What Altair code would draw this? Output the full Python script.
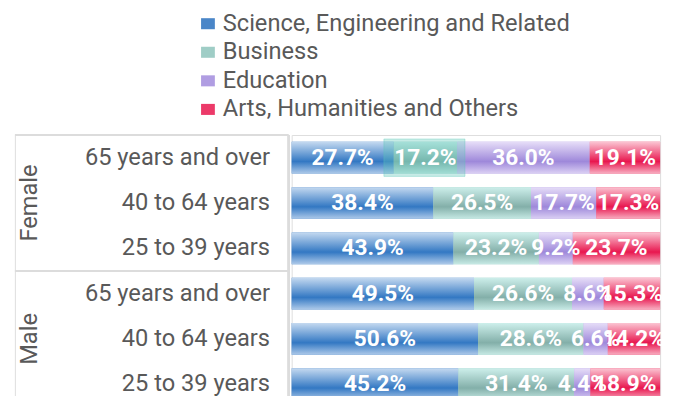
import altair as alt
import pandas as pd

genders = ["Female", "Female", "Female", "Male", "Male", "Male"]
ages = ["65 years and over", "40 to 64 years", "25 to 39 years",
        "65 years and over", "40 to 64 years", "25 to 39 years"]
categories = ["Science, Engineering and Related", "Business", "Education",
              "Arts, Humanities and Others"]
science = [27.7, 38.4, 43.9, 49.5, 50.6, 45.2]
business = [17.2, 26.5, 23.2, 26.6, 28.6, 31.4]
education = [36.0, 17.7, 9.2, 8.6, 6.6, 4.4]
arts = [19.1, 17.3, 23.7, 15.3, 14.2, 18.9]

series = [science, business, education, arts]
solid = ["#4a86c8", "#9fcdc6", "#b09de2", "#ec3a69"]
grad_stops = [
    [("#c4d9f0", 0.0), ("#3378c3", 0.62), ("#adc9e9", 1.0)],
    [("#cdefeb", 0.0), ("#83afa9", 0.62), ("#c6e9e4", 1.0)],
    [("#e6ddf8", 0.0), ("#9e88da", 0.62), ("#dbd0f4", 1.0)],
    [("#fbc4d2", 0.0), ("#e8174f", 0.62), ("#f8aec1", 1.0)],
]

row_keys = [g + "|" + a for g, a in zip(genders, ages)]

records = []
for ci, (cat, vals) in enumerate(zip(categories, series)):
    for ri, v in enumerate(vals):
        records.append({
            "row": row_keys[ri], "gender": genders[ri], "age": ages[ri],
            "category": cat, "order": ci, "value": v,
            "label": f"{v:.1f}%",
            "hl": 1 if (ri == 0 and ci == 1) else 0,
        })
df = pd.DataFrame(records)

rows_df = pd.DataFrame({
    "row": row_keys, "gender": genders, "age": ages,
    "first": [1, 0, 0, 1, 0, 0], "mid": [0, 1, 0, 0, 1, 0],
})

H = 276
LW = 278
RW = 374
TXT = "#595959"
LINE = "#dcdcdc"

# ---------- left label panel ----------
yl = alt.Y("row:N", sort=row_keys, scale=alt.Scale(paddingInner=0, paddingOuter=0), axis=None)
xl0 = alt.X(datum=0, type="quantitative", scale=alt.Scale(domain=[0, 1], nice=False), axis=None)
xl1 = alt.X(datum=1, type="quantitative", scale=alt.Scale(domain=[0, 1], nice=False), axis=None)
lbase = alt.Chart(rows_df)
rules = lbase.transform_filter("datum.first == 1").mark_rule(color=LINE, strokeWidth=2).encode(
    y=alt.Y("row:N", sort=row_keys, bandPosition=0, scale=alt.Scale(paddingInner=0, paddingOuter=0), axis=None),
    x=xl0, x2=alt.X2(datum=1))
vline = lbase.mark_rule(color=LINE, strokeWidth=2).encode(
    x=xl1, y=alt.value(0), y2=alt.value(H))
age_txt = lbase.mark_text(align="right", baseline="middle", fontSize=24, color=TXT, dx=-19).encode(
    x=xl1, y=yl, text="age:N")
gen_txt = lbase.transform_filter("datum.mid == 1").mark_text(
    angle=270, align="center", baseline="middle", fontSize=24, color=TXT, dy=15).encode(
    x=xl0, y=yl, text="gender:N")
left = alt.layer(rules, vline, age_txt, gen_txt).properties(width=LW, height=H)

# ---------- right bar panel ----------
base = alt.Chart(df).transform_stack(
    stack="value", groupby=["row"], as_=["x0", "x1"], offset="normalize",
    sort=[alt.SortField("order")]).transform_calculate(mid="(datum.x0 + datum.x1) / 2")

Y = alt.Y("row:N", sort=row_keys, scale=alt.Scale(paddingInner=0.3, paddingOuter=0.15), axis=None)
X = alt.X("x0:Q", scale=alt.Scale(domain=[0, 1], nice=False), axis=None)
X2 = alt.X2("x1:Q")

legend_layer = base.mark_bar().encode(
    x=X, x2=X2, y=Y,
    color=alt.Color("category:N", scale=alt.Scale(domain=categories, range=solid),
                    legend=alt.Legend(orient="none", legendX=184, legendY=-125, title=None,
                                      direction="vertical", labelFontSize=24, labelColor=TXT,
                                      symbolType="M-1,-0.8H1V0.8H-1Z", symbolSize=196,
                                      symbolStrokeWidth=0, symbolOpacity=1, labelOffset=3,
                                      rowPadding=5, padding=0, labelLimit=500)))

layers = [legend_layer]
for cat, stops in zip(categories, grad_stops):
    g = alt.Gradient(gradient="linear", x1=0, x2=0, y1=0, y2=1,
                     stops=[alt.GradientStop(color=c, offset=o) for c, o in stops])
    layers.append(base.transform_filter(alt.datum.category == cat).mark_bar(color=g).encode(
        x=X, x2=X2, y=Y))

hl = base.transform_filter("datum.hl == 1").mark_bar(
    height=38, xOffset=-10, x2Offset=8, fill="#5cc6b8", fillOpacity=0.35,
    stroke="#5cc6b8", strokeOpacity=0.35, strokeWidth=1).encode(x=X, x2=X2, y=Y)
layers.append(hl)

labels = base.mark_text(color="white", fontSize=23, fontWeight="bold", baseline="middle").encode(
    x=alt.X("mid:Q", scale=alt.Scale(domain=[0, 1], nice=False), axis=None), y=Y, text="label:N")
layers.append(labels)

right = alt.layer(*layers).properties(width=RW, height=H)

chart = alt.hconcat(left, right, spacing=0).properties(
    padding={"left": 5, "top": 1, "right": 0, "bottom": -16}
).configure_view(stroke=None).configure(font="Roboto")

chart.save("out.html", embed_options={"renderer": "svg", "actions": False})
